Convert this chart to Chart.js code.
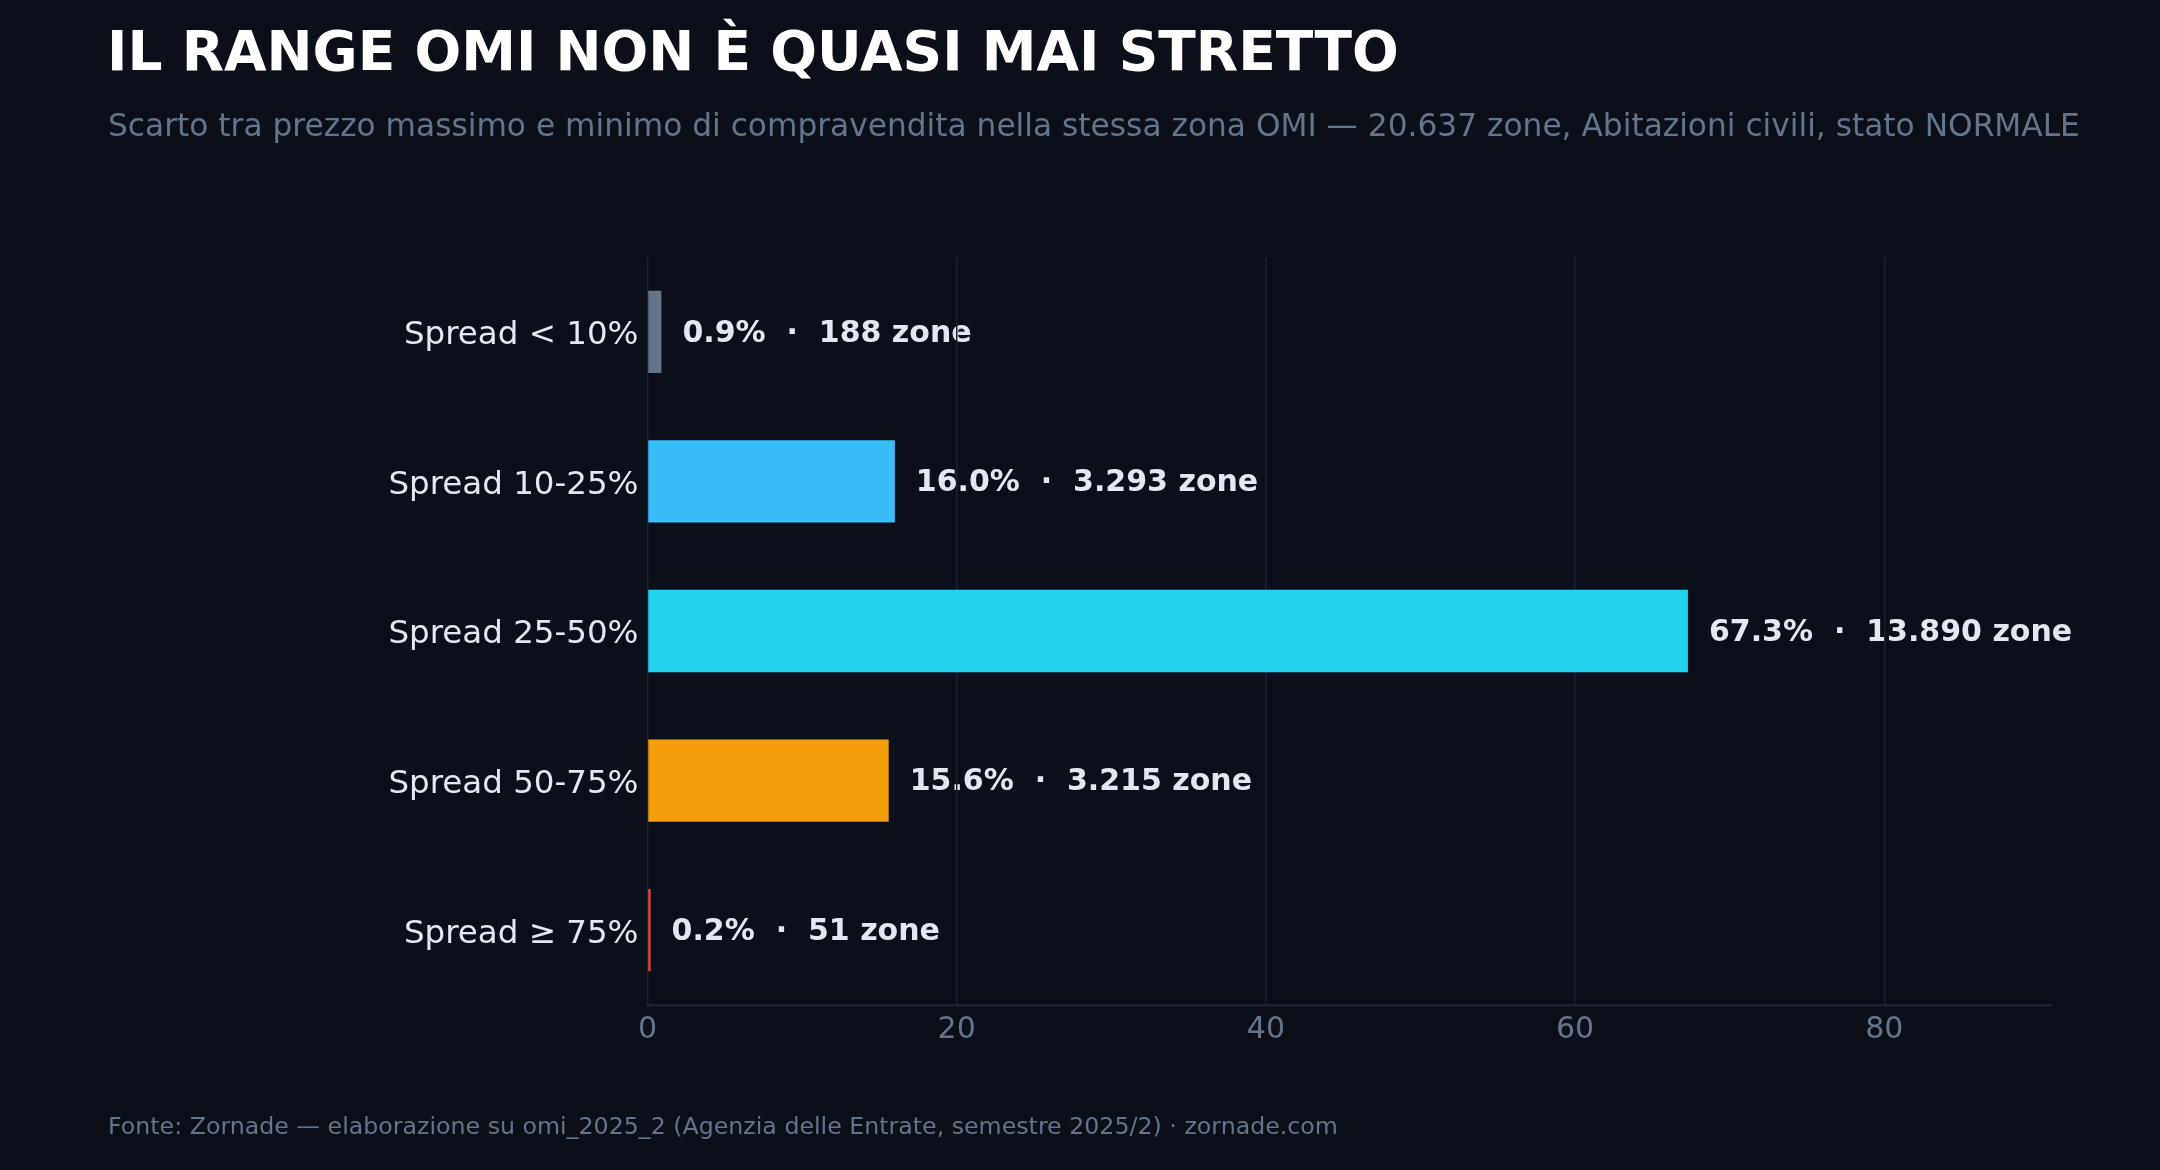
<!DOCTYPE html>
<html>
<head>
<meta charset="utf-8">
<script src="https://cdn.jsdelivr.net/npm/chart.js@4.4.1/dist/chart.umd.min.js"></script>
<style>
    html, body { margin: 0; padding: 0; background: #0b0f1a; }
    #wrap { width: 2160px; height: 1170px; position: relative; }
</style>
</head>
<body>
<div id="wrap"><canvas id="myChart" width="2160" height="1170"></canvas></div>
<script>
const categories = ['Spread < 10%', 'Spread 10-25%', 'Spread 25-50%', 'Spread 50-75%', 'Spread \u2265 75%'];
const percents = [0.9, 16.0, 67.3, 15.6, 0.2];
const zoneCounts = ['188', '3.293', '13.890', '3.215', '51'];
const barColors = ['#64748b', '#38bdf8', '#22d3ee', '#f59e0b', '#ef4444'];
const xTicks = [0, 20, 40, 60, 80];

const titleText = 'IL RANGE OMI NON \u00c8 QUASI MAI STRETTO';
const subtitleText = 'Scarto tra prezzo massimo e minimo di compravendita nella stessa zona OMI \u2014 20.637 zone, Abitazioni civili, stato NORMALE';
const footerText = 'Fonte: Zornade \u2014 elaborazione su omi_2025_2 (Agenzia delle Entrate, semestre 2025/2) \u00b7 zornade.com';

const FONT = "'DejaVu Sans', sans-serif";

// background, headings and value labels (drawn before the grid, like the original)
const decorPlugin = {
    id: 'decor',
    beforeDraw(chart) {
        const c = chart.ctx;
        c.save();
        c.fillStyle = '#0b0f1a';
        c.fillRect(0, 0, chart.width, chart.height);

        c.textAlign = 'left';
        c.textBaseline = 'alphabetic';
        c.fillStyle = '#ffffff';
        c.font = 'bold 55px ' + FONT;
        c.fillText(titleText, 107, 70);

        c.fillStyle = '#64748b';
        c.font = '31.25px ' + FONT;
        c.fillText(subtitleText, 108, 136);

        c.font = '23.7px ' + FONT;
        c.fillText(footerText, 108, 1134);

        // value labels next to each bar
        const meta = chart.getDatasetMeta(0);
        c.font = 'bold 30px ' + FONT;
        c.fillStyle = '#e2e8f0';
        c.textBaseline = 'middle';
        meta.data.forEach((bar, i) => {
            const txt = percents[i].toFixed(1) + '%  \u00b7  ' + zoneCounts[i] + ' zone';
            c.fillText(txt, bar.x + 21, bar.y + 2);
        });
        c.restore();
    }
};

const ctx = document.getElementById('myChart').getContext('2d');
const myChart = new Chart(ctx, {
    type: 'bar',
    data: {
        labels: categories,
        datasets: [
            {
                label: 'Quota zone',
                data: percents,
                backgroundColor: barColors,
                borderWidth: 0,
                barPercentage: 0.55,
                categoryPercentage: 1.0
            }
        ]
    },
    options: {
        indexAxis: 'y',
        responsive: false,
        animation: false,
        layout: {
            padding: { left: 0, right: 108, top: 257, bottom: 105 }
        },
        plugins: {
            legend: { display: false },
            title: { display: false },
            tooltip: { enabled: false }
        },
        scales: {
            x: {
                min: 0,
                max: 90.85,
                afterBuildTicks: (scale) => {
                    scale.ticks = xTicks.map(v => ({ value: v }));
                },
                afterFit: (scale) => { scale.height = 60; },
                grid: {
                    color: '#1c2130',
                    lineWidth: 1.5,
                    drawTicks: false
                },
                border: {
                    display: true,
                    color: '#1e2433',
                    width: 2.5
                },
                ticks: {
                    color: '#64748b',
                    font: { family: FONT, size: 30 },
                    padding: 7
                }
            },
            y: {
                afterFit: (scale) => { scale.width = 647.5; },
                grid: { display: false, drawTicks: false },
                border: { display: false },
                ticks: {
                    color: '#e2e8f0',
                    font: { family: FONT, size: 32.5 },
                    padding: 9,
                    labelOffset: 4
                }
            }
        }
    },
    plugins: [decorPlugin]
});
</script>
</body>
</html>
